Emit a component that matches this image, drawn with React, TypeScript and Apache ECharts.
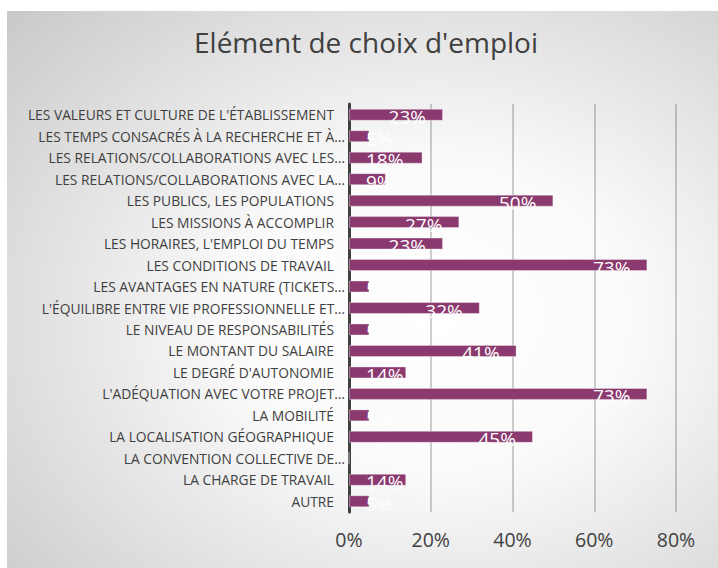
import React, { useEffect, useRef } from "react";
import * as echarts from "echarts";

const categories = [
  "LES VALEURS ET CULTURE DE L'ÉTABLISSEMENT",
  "LES TEMPS CONSACRÉS À LA RECHERCHE ET À…",
  "LES RELATIONS/COLLABORATIONS AVEC LES…",
  "LES RELATIONS/COLLABORATIONS AVEC LA…",
  "LES PUBLICS, LES POPULATIONS",
  "LES MISSIONS À ACCOMPLIR",
  "LES HORAIRES, L'EMPLOI DU TEMPS",
  "LES CONDITIONS DE TRAVAIL",
  "LES AVANTAGES EN NATURE (TICKETS…",
  "L'ÉQUILIBRE ENTRE VIE PROFESSIONNELLE ET…",
  "LE NIVEAU DE RESPONSABILITÉS",
  "LE MONTANT DU SALAIRE",
  "LE DEGRÉ D'AUTONOMIE",
  "L'ADÉQUATION AVEC VOTRE PROJET…",
  "LA MOBILITÉ",
  "LA LOCALISATION GÉOGRAPHIQUE",
  "LA CONVENTION COLLECTIVE DE…",
  "LA CHARGE DE TRAVAIL",
  "AUTRE",
];

const values = [23, 5, 18, 9, 50, 27, 23, 73, 5, 32, 5, 41, 14, 73, 5, 45, 0, 14, 5];

const xTicks = { min: 0, max: 80, interval: 20 };

const TITLE = "Elément de choix d'emploi";
const FONT = "'Open Sans', 'Noto Sans', sans-serif";

export default function App() {
  const ref = useRef<HTMLDivElement>(null);

  useEffect(() => {
    if (!ref.current) return;
    const chart = echarts.init(ref.current, null, { renderer: "svg" });

    const data = values.map((v) => {
      const small = v < 20;
      return {
        value: v,
        label: {
          show: v > 0,
          position: small ? "insideLeft" : "insideRight",
          offset: small ? [12, 2.5] : [-12, 2.5],
        },
      };
    });

    chart.setOption({
      animation: false,
      backgroundColor: "#ffffff",
      textStyle: { fontFamily: FONT },
      graphic: [
        {
          type: "rect",
          z: -10,
          silent: true,
          shape: { x: 7, y: 11, width: 711, height: 557 },
          style: {
            fill: new echarts.graphic.RadialGradient(0.6, 0.55, 0.95, [
              { offset: 0, color: "#ffffff" },
              { offset: 0.3, color: "#fafafa" },
              { offset: 1, color: "#bcbcbc" },
            ]),
          },
        },
        {
          type: "text",
          x: 366,
          y: 42,
          style: {
            text: TITLE,
            fontFamily: FONT,
            fontSize: 28,
            fill: "#404040",
            align: "center",
            verticalAlign: "middle",
          },
        },
      ],
      grid: { left: 349, right: 42, top: 104, bottom: 56, containLabel: false },
      xAxis: {
        type: "value",
        min: xTicks.min,
        max: xTicks.max,
        interval: xTicks.interval,
        axisLine: { show: false },
        axisTick: { show: false },
        axisLabel: {
          formatter: "{value}%",
          color: "#404040",
          fontSize: 19.5,
          fontFamily: FONT,
          margin: 17,
        },
        splitLine: { lineStyle: { color: "rgba(0,0,0,0.25)", width: 1.5 } },
      },
      yAxis: {
        type: "category",
        data: categories,
        inverse: true,
        axisLine: { show: true, lineStyle: { color: "#404040", width: 3 } },
        axisTick: { show: false },
        axisLabel: {
          color: "#404040",
          fontSize: 13.8,
          fontFamily: FONT,
          margin: 4,
          formatter: (s: string) => (s.endsWith("…") ? s : s + "{p|}"),
          rich: { p: { width: 11 } },
        },
      },
      series: [
        {
          type: "bar",
          data,
          barWidth: 12,
          itemStyle: {
            color: "#8a3a6e",
            borderColor: "rgba(255,255,255,0.35)",
            borderWidth: 1,
          },
          label: {
            show: true,
            color: "#ffffff",
            fontSize: 19,
            fontFamily: FONT,
            formatter: (p: any) => `${p.value}%`,
          },
        },
      ],
    });

    return () => chart.dispose();
  }, []);

  return (
    <div
      ref={ref}
      style={{ position: "fixed", left: 0, top: 0, width: 718, height: 568 }}
    />
  );
}
